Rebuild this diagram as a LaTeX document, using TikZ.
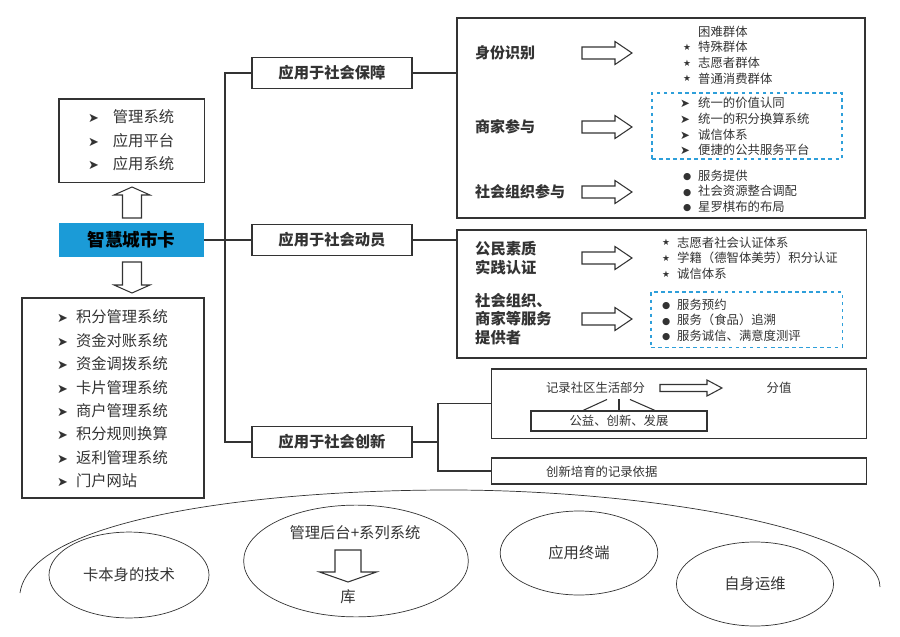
\documentclass[tikz,border=0pt]{standalone}
\usepackage{fontspec}
\setmainfont{Noto Sans CJK SC}
\newfontfamily\symfont{DejaVu Sans}
\usetikzlibrary{shapes.geometric}
\usetikzlibrary{positioning}

\definecolor{cardblue}{HTML}{1B9BD7}
\definecolor{dashblue}{HTML}{2E9FDA}
\definecolor{ink}{HTML}{333333}

\newcommand{\arb}[2]{\makebox[#1][l]{\raisebox{0pt}{\symfont\fontsize{#2}{#2}\selectfont ➤}}}
\newcommand{\stb}{\makebox[12.75pt][l]{\raisebox{1pt}{\symfont\fontsize{7.5}{7.5}\selectfont ★}}}
\newcommand{\dtb}{\makebox[12.75pt][l]{\raisebox{.5pt}{\symfont\fontsize{8}{8}\selectfont ●}}}

\tikzset{
  frame/.style={draw=ink, line width=.9pt, inner sep=0pt},
  appbox/.style={frame, minimum width=136pt, minimum height=27pt, font=\bfseries\fontsize{13}{15}\selectfont},
  dashbox/.style={draw=dashblue, dashed, line width=.9pt, inner sep=0pt},
  head/.style={anchor=west, inner sep=0pt, align=left, font=\bfseries\fontsize{12.75}{16}\selectfont},
  small/.style={anchor=west, inner sep=0pt, align=left, font=\fontsize{10.5}{13.3}\selectfont},
  biglist/.style={anchor=west, inner sep=0pt, align=left, font=\fontsize{13}{19.9}\selectfont},
  oval/.style={draw, ellipse, line width=.6pt, inner sep=0pt, font=\fontsize{13}{15}\selectfont},
  pics/hollow/.style n args={4}{code={
    \draw[line width=.9pt, ink] (0,-#2) -- ({#1-#4},-#2) -- ({#1-#4},-#3) -- (#1,0)
      -- ({#1-#4},#3) -- ({#1-#4},#2) -- (0,#2) -- cycle;
  }},
}

\begin{document}
\begin{tikzpicture}[x=.85pt, y=-.85pt, color=ink]
  \useasboundingbox (0,0) rectangle (900,637);

  % left column
  \node[frame, minimum width=123.3pt, minimum height=70.6pt] (plat) at (131.5,140.5) {};
  \node[biglist, font=\fontsize{13}{20}\selectfont] (platlist) at (88,140.5)
    {\arb{21pt}{11}管理系统\\\arb{21pt}{11}应用平台\\\arb{21pt}{11}应用系统};
  \node[fill=cardblue, inner sep=0pt, minimum width=123.3pt, minimum height=28.9pt,
    text=black, font=\bfseries\fontsize{15}{17}\selectfont] (card) at (131.5,240) {智慧城市卡};
  \node[frame, minimum width=154.7pt, minimum height=170pt] (sys) at (113,398) {};
  \node[biglist] (syslist) at (57,399)
    {\arb{16pt}{11}积分管理系统\\\arb{16pt}{11}资金对账系统\\\arb{16pt}{11}资金调拨系统\\
     \arb{16pt}{11}卡片管理系统\\\arb{16pt}{11}商户管理系统\\\arb{16pt}{11}积分规则换算\\
     \arb{16pt}{11}返利管理系统\\\arb{16pt}{11}门户网站};
  \pic[rotate=90] at (132,218) {hollow={31}{9.5}{18}{8}};
  \pic[rotate=-90] at (132,262) {hollow={31}{9.5}{18}{8}};

  % applications
  \node[appbox] (bao) at (332,73) {应用于社会保障};
  \node[appbox] (dong) at (332,240) {应用于社会动员};
  \node[appbox] (chuang) at (332,442) {应用于社会创新};
  \coordinate (jt) at (225,240);
  \draw[line width=.9pt] (card.east) -- (dong.west);
  \draw[line width=.9pt] (bao.west) -| (jt) |- (chuang.west);

  % social security
  \node[frame, minimum width=346.8pt, minimum height=170pt] (secu) at (661,118) {};
  \draw[line width=.9pt] (bao.east) -- (bao.east -| secu.west);
  \node[head] (sfsb) at (475,53) {身份识别};
  \node[head] (sjcy) at (475,127) {商家参与};
  \node[head] (zzcy) at (475,192) {社会组织参与};
  \pic at (582,53) {hollow={50}{6}{11.5}{17}};
  \pic at (582,127) {hollow={50}{6}{11.5}{17}};
  \pic at (582,192) {hollow={50}{6}{11.5}{17}};
  \node[small] (qunti) at (683,55)
    {\makebox[12.75pt]{}困难群体\\\stb 特殊群体\\\stb 志愿者群体\\\stb 普通消费群体};
  \node[dashbox, minimum width=161.5pt, minimum height=56.1pt] (jzbox) at (747,126) {};
  \node[small] (jzlist) at (680,126.5)
    {\arb{15.3pt}{10}统一的价值认同\\\arb{15.3pt}{10}统一的积分换算系统\\
     \arb{15.3pt}{10}诚信体系\\\arb{15.3pt}{10}便捷的公共服务平台};
  \node[small] (tglist) at (683,191)
    {\dtb 服务提供\\\dtb 社会资源整合调配\\\dtb 星罗棋布的布局};

  % social mobilisation
  \node[frame, minimum width=347.7pt, minimum height=108.8pt] (mob) at (661.5,294) {};
  \draw[line width=.9pt] (dong.east) -- (dong.east -| mob.west);
  \node[head, font=\bfseries\fontsize{13}{16}\selectfont] (gmsz) at (475,258) {公民素质\\实践认证};
  \node[head, font=\bfseries\fontsize{13}{16}\selectfont] (fwz) at (475,319) {社会组织、\\商家等服务\\提供者};
  \pic at (582,258) {hollow={50}{6}{11.5}{17}};
  \pic at (582,319) {hollow={50}{6}{11.5}{17}};
  \node[small] (rzlist) at (662,258)
    {\stb 志愿者社会认证体系\\\stb 学籍（德智体美劳）积分认证\\\stb 诚信体系};
  \node[dashbox, minimum width=162.4pt, minimum height=46.8pt] (fwbox) at (746.5,319.5) {};
  \node[small] (fwlist) at (662,320)
    {\dtb 服务预约\\\dtb 服务（食品）追溯\\\dtb 服务诚信、满意度测评};

  % social innovation
  \node[frame, minimum width=318pt, minimum height=58.7pt] (inno) at (679,403.5) {};
  \node[frame, minimum width=318pt, minimum height=22.1pt] (basis) at (679,471) {};
  \coordinate (jc) at (438,442);
  \draw[line width=.9pt] (chuang.east) -- (jc);
  \draw[line width=.9pt] (inno.west) -| (jc) |- (basis.west);
  \node[inner sep=0pt, font=\fontsize{10.5}{12}\selectfont] (rec) at (595.5,388) {记录社区生活部分};
  \pic at (660,388) {hollow={62}{3.5}{8}{15}};
  \node[inner sep=0pt, font=\fontsize{10.5}{12}\selectfont] (fen) at (779,388) {分值};
  \node[frame, minimum width=149.6pt, minimum height=17pt, font=\fontsize{10.5}{12}\selectfont] (gyf) at (619,421) {公益、创新、发展};
  \draw[line width=.9pt] ([xshift=-30.6pt]gyf.north) -- ++(24,-11);
  \draw[line width=.9pt] (gyf.north) -- ++(0,-11);
  \draw[line width=.9pt] ([xshift=30.6pt]gyf.north) -- ++(-25,-11);
  \node[small] (ylyj) at (546,472) {创新培育的记录依据};

  % base
  \draw[line width=.6pt] (20,593) .. controls (30,520) and (250,490) .. (450,490)
    .. controls (650,490) and (880,530) .. (880,587);
  \node[oval, minimum width=136pt, minimum height=73pt] (tech) at (129,575) {卡本身的技术};
  \node[oval, minimum width=191pt, minimum height=95pt] (back) at (356,561) {};
  \node[inner sep=0pt, font=\fontsize{13}{15}\selectfont] (htxt) at (355,533) {管理后台+系列系统};
  \pic[rotate=-90] at (348,550) {hollow={32}{13}{28.5}{10}};
  \node[inner sep=0pt, font=\fontsize{13}{15}\selectfont] (ku) at (348,597) {库};
  \node[oval, minimum width=134pt, minimum height=71.4pt] (term) at (579,553) {应用终端};
  \node[oval, minimum width=133.5pt, minimum height=71.4pt] (ops) at (755,584) {自身运维};
\end{tikzpicture}
\end{document}
